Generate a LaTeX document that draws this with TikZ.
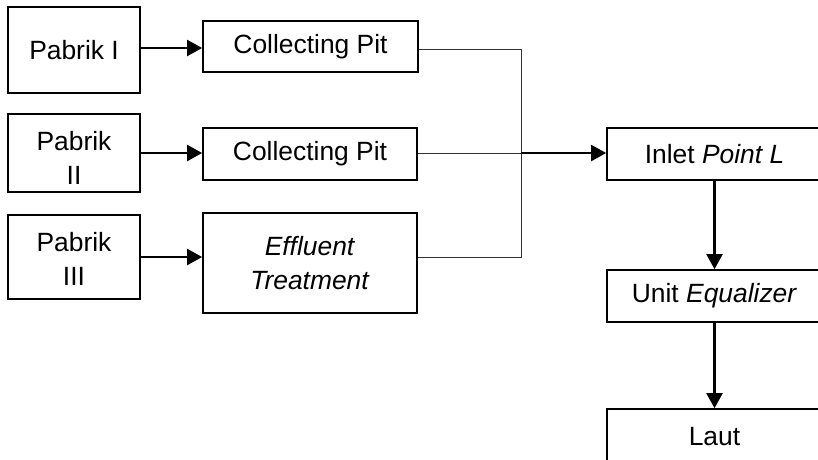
\documentclass[tikz,border=0pt]{standalone}
\usepackage{fontspec}
\setmainfont{Liberation Sans}
\usetikzlibrary{arrows.meta}
\begin{document}
\begin{tikzpicture}[x=1pt,y=-1pt,
  box/.style={draw=black, line width=1.7pt, inner sep=0pt, align=center,
    font=\fontsize{26.4}{34}\selectfont},
  thinline/.style={draw=black!80, line width=1pt},
  arr/.style={draw=black, line width=2.2pt, -{Triangle[length=15pt,width=16pt]}}]
\useasboundingbox (0,0) rectangle (818,459);
\clip (0,0) rectangle (818,459);
% left column
\node[box, minimum width=132pt, minimum height=86pt] (p1) at (74,50) {Pabrik I};
\node[box, minimum width=132pt, minimum height=78pt] (p2) at (74,153) {\rule{0pt}{29pt}Pabrik\\II};
\node[box, minimum width=132pt, minimum height=84pt] (p3) at (74,257) {\rule{0pt}{23pt}Pabrik\\III};
% middle column
\node[box, minimum width=215pt, minimum height=51pt] (cp1) at (310.5,46.5) {Collecting Pit};
\node[box, minimum width=214pt, minimum height=52pt] (cp2) at (310,154) {Collecting Pit};
\node[box, minimum width=214pt, minimum height=100pt] (et) at (310,263) {\textit{Effluent}\\\textit{Treatment}};
% right column
\node[box, minimum width=215pt, minimum height=52pt] (inlet) at (714.5,154) {Inlet \textit{Point L}};
\node[box, minimum width=215pt, minimum height=52pt] (eq) at (714.5,296) {Unit \textit{Equalizer}};
\node[box, minimum width=215pt, minimum height=56pt] (laut) at (714.5,437) {Laut};
% junction
\coordinate (j) at (521,153);
% arrows from factories
\draw[arr] (p1.east |- 0,48) -- (cp1.west |- 0,48);
\draw[arr] (p2.east) -- (p2.east -| cp2.west);
\draw[arr] (p3.east) -- (p3.east -| et.west);
% thin collector lines
\draw[thinline] (cp1.east |- 0,49) -| (j);
\draw[thinline] (et.east |- p3.east) -| (j);
\draw[thinline] (cp2.east |- j) -- (j);
% main flow
\draw[arr] (j) -- (j -| inlet.west);
\draw[arr] (inlet.south) -- (eq.north);
\draw[arr] (eq.south) -- (laut.north);
\end{tikzpicture}
\end{document}
